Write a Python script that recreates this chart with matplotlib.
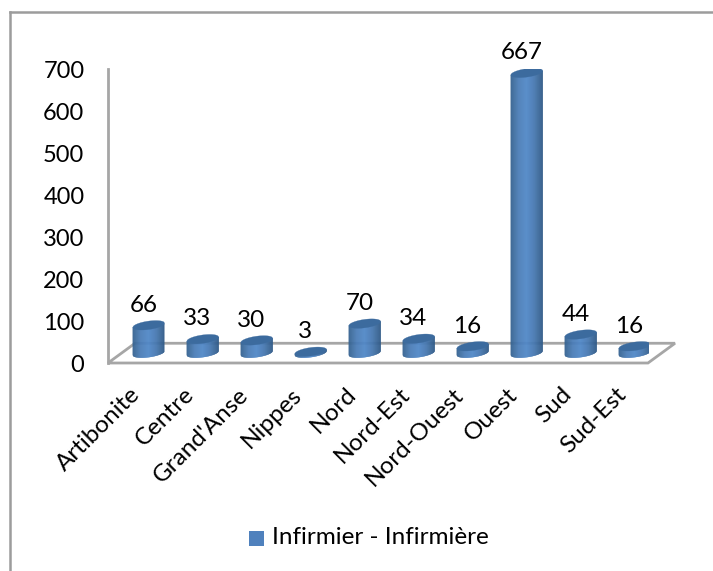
import numpy as np
import matplotlib
matplotlib.use('Agg')
import matplotlib.pyplot as plt
from matplotlib.colors import LinearSegmentedColormap
from matplotlib.lines import Line2D
from matplotlib.patches import Polygon, Rectangle

plt.rcParams['font.family'] = ['Lato', 'DejaVu Sans']

departments = ['Artibonite', 'Centre', "Grand'Anse", 'Nippes', 'Nord',
               'Nord-Est', 'Nord-Ouest', 'Ouest', 'Sud', 'Sud-Est']
counts = [66, 33, 30, 3, 70, 34, 16, 667, 44, 16]
y_ticks = [0, 100, 200, 300, 400, 500, 600, 700]
series_name = 'Infirmier - Infirmière'

W, H = 713, 571
GREY = '#a6a6a6'

# depth of the fake 3d floor, in data units
DEPTH_X = 0.5
DEPTH_Y = 47
BAR_DX = 0.245
BAR_DY = 25
HALF_W = 0.295
CAP_H = 10
TILT = 5

side_cmap = LinearSegmentedColormap.from_list(
    'side', ['#35628f', '#4a7db8', '#5088c8', '#4678b0', '#305a88'])


def cylinder(ax, center, value):
    xs = np.linspace(center - HALF_W, center + HALF_W, 65)
    u = (xs - center) / HALF_W
    arc = CAP_H * np.sqrt(1 - u ** 2)
    slope = TILT * u
    base = BAR_DY
    top = BAR_DY + value

    # side of the cylinder as thin strips, for the gradient
    for j in range(len(xs) - 1):
        c = side_cmap(j / (len(xs) - 2))
        ax.fill_between(xs[j:j + 2], (base - arc + slope)[j:j + 2], (top + slope)[j:j + 2],
                        facecolor=c, edgecolor=c, linewidth=0.2, zorder=3)

    ax.fill_between(xs, top - arc + slope, top + arc + slope,
                    facecolor='#3c6b9e', edgecolor='#3c6b9e', linewidth=0.2, zorder=4)


fig = plt.figure(figsize=(W / 100, H / 100), dpi=100)
fig.patch.set_facecolor('white')

# chart frame, only top and left are inside the picture
fig.add_artist(Line2D([10 / W, 1], [1 - 12 / H, 1 - 12 / H], transform=fig.transFigure,
                      color='#9c9c9c', linewidth=1.8))
fig.add_artist(Line2D([10 / W, 10 / W], [0, 1 - 12 / H], transform=fig.transFigure,
                      color='#9c9c9c', linewidth=1.8))

ax = fig.add_axes([108 / W, 1 - 363 / H, 540 / W, 294 / H])
ax.patch.set_alpha(0)
for name in ['top', 'right', 'bottom']:
    ax.spines[name].set_visible(False)
ax.spines['left'].set_color(GREY)
ax.spines['left'].set_linewidth(2)

# floor of the chart
ax.add_patch(Polygon([(-0.5, 0), (DEPTH_X - 0.5, DEPTH_Y), (DEPTH_X + 9.5, DEPTH_Y), (9.5, 0)],
                     closed=True, facecolor='white', edgecolor=GREY, linewidth=2,
                     clip_on=False, zorder=1))

for i, v in enumerate(counts):
    cylinder(ax, i + BAR_DX, v)
    ax.text(i + BAR_DX - 0.09, BAR_DY + v + 47, str(v), ha='center', va='center',
            fontsize=17.5, color='black', zorder=5)

ax.set_xlim(-0.5, 9.5)
ax.set_ylim(0, 700)
ax.set_yticks(y_ticks)
ax.set_yticklabels([str(t) for t in y_ticks], fontsize=17)
ax.tick_params(axis='y', length=0, pad=17)
# labels sit a little left of the slot, as in the original
ax.set_xticks(np.arange(len(departments)) - 0.11)
ax.set_xticklabels(departments, rotation=45, ha='right', rotation_mode='anchor', fontsize=17.5)
ax.tick_params(axis='x', length=0, pad=15)

# legend placed by hand
fig.add_artist(Rectangle((249 / W, 1 - 546 / H), 15 / W, 15 / H, transform=fig.transFigure,
                         facecolor='#4f81bd', edgecolor='none'))
fig.text(272 / W, 1 - 538 / H, series_name, fontsize=17.5, va='center', ha='left')

fig.savefig('out.png', dpi=100)
